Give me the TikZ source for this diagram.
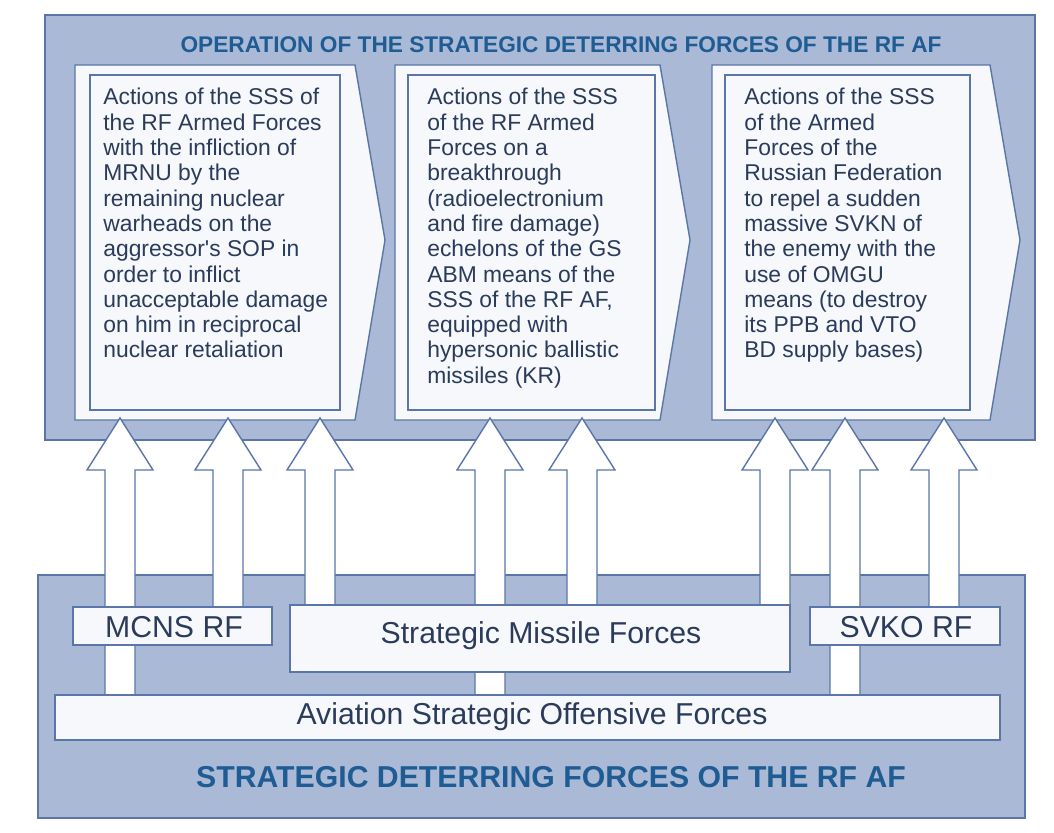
\documentclass[tikz,border=0pt]{standalone}
\usepackage{fontspec}
\setmainfont{Liberation Sans}
\usetikzlibrary{positioning}
\definecolor{panel}{HTML}{A9B9D6}
\definecolor{edge}{HTML}{5A76A8}
\definecolor{boxfill}{HTML}{F6F8FC}
\definecolor{titleblue}{HTML}{1F5C93}
\definecolor{txt}{HTML}{2B3B5A}
\tikzset{
  panel/.style={fill=panel,draw=edge,line width=1pt},
  wbox/.style={fill=boxfill,draw=edge,line width=0.8pt},
  body/.style={text=txt,font=\fontsize{13}{14.4}\selectfont,align=left,anchor=north west,inner sep=0pt},
  lbl/.style={text=txt,font=\fontsize{17.2}{19}\selectfont},
  uparrow/.style={fill=white,draw=edge,line width=0.8pt}
}
\begin{document}
\begin{tikzpicture}[x=0.02cm,y=-0.02cm]
\useasboundingbox (0,0) rectangle (1054,832);
% upper panel
\draw[panel] (45,15) rectangle (1035,440);
\node[text=titleblue,font=\bfseries\fontsize{12.9}{15}\selectfont] (optitle) at (561,45) {OPERATION OF THE STRATEGIC DETERRING FORCES OF THE RF AF};
% lower panel
\draw[panel] (38,575) rectangle (1025,818);
\node[text=titleblue,font=\bfseries\fontsize{17.2}{20}\selectfont] (sdftitle) at (551,777) {STRATEGIC DETERRING FORCES OF THE RF AF};
% arrow boxes
\foreach \l/\r/\il/\ir in {75/385/90/340, 395/690/408/655, 712/1020/725/970}{
  \draw[wbox] (\l,65) -- (\r-30,65) -- (\r,240) -- (\r-30,420) -- (\l,420) -- cycle;
  \draw[wbox] (\il,75) rectangle (\ir,410);
}
\node[body] (act1) at (103,88) {Actions of the SSS of\\the RF Armed Forces\\with the infliction of\\MRNU by the\\remaining nuclear\\warheads on the\\aggressor\textquotesingle s SOP in\\order to inflict\\unacceptable damage\\on him in reciprocal\\nuclear retaliation};
\node[body] (act2) at (427,88) {Actions of the SSS\\of the RF Armed\\Forces on a\\breakthrough\\(radioelectronium\\and fire damage)\\echelons of the GS\\ABM means of the\\SSS of the RF AF,\\equipped with\\hypersonic ballistic\\missiles (KR)};
\node[body] (act3) at (744,88) {Actions of the SSS\\of the Armed\\Forces of the\\Russian Federation\\to repel a sudden\\massive SVKN of\\the enemy with the\\use of OMGU\\means (to destroy\\its PPB and VTO\\BD supply bases)};
% block arrows
\foreach \x/\b in {120/700, 228/615, 320/610, 490/700, 582/610, 775/610, 845/700, 944/615}{
  \draw[uparrow] (\x-15,\b) -- (\x-15,470) -- (\x-33,470) -- (\x,418) -- (\x+33,470) -- (\x+15,470) -- (\x+15,\b) -- cycle;
}
% forces
\draw[wbox] (73,607) rectangle (272,645);
\node[lbl] (mcns) at (174,627) {MCNS RF};
\draw[wbox] (290,605) rectangle (790,672);
\node[lbl] (smf) at (541,636) {Strategic Missile Forces};
\draw[wbox] (810,607) rectangle (1000,645);
\node[lbl] (svko) at (906,627) {SVKO RF};
\draw[wbox] (55,695) rectangle (1000,740);
\node[lbl] (asof) at (532,717) {Aviation Strategic Offensive Forces};
\end{tikzpicture}
\end{document}
